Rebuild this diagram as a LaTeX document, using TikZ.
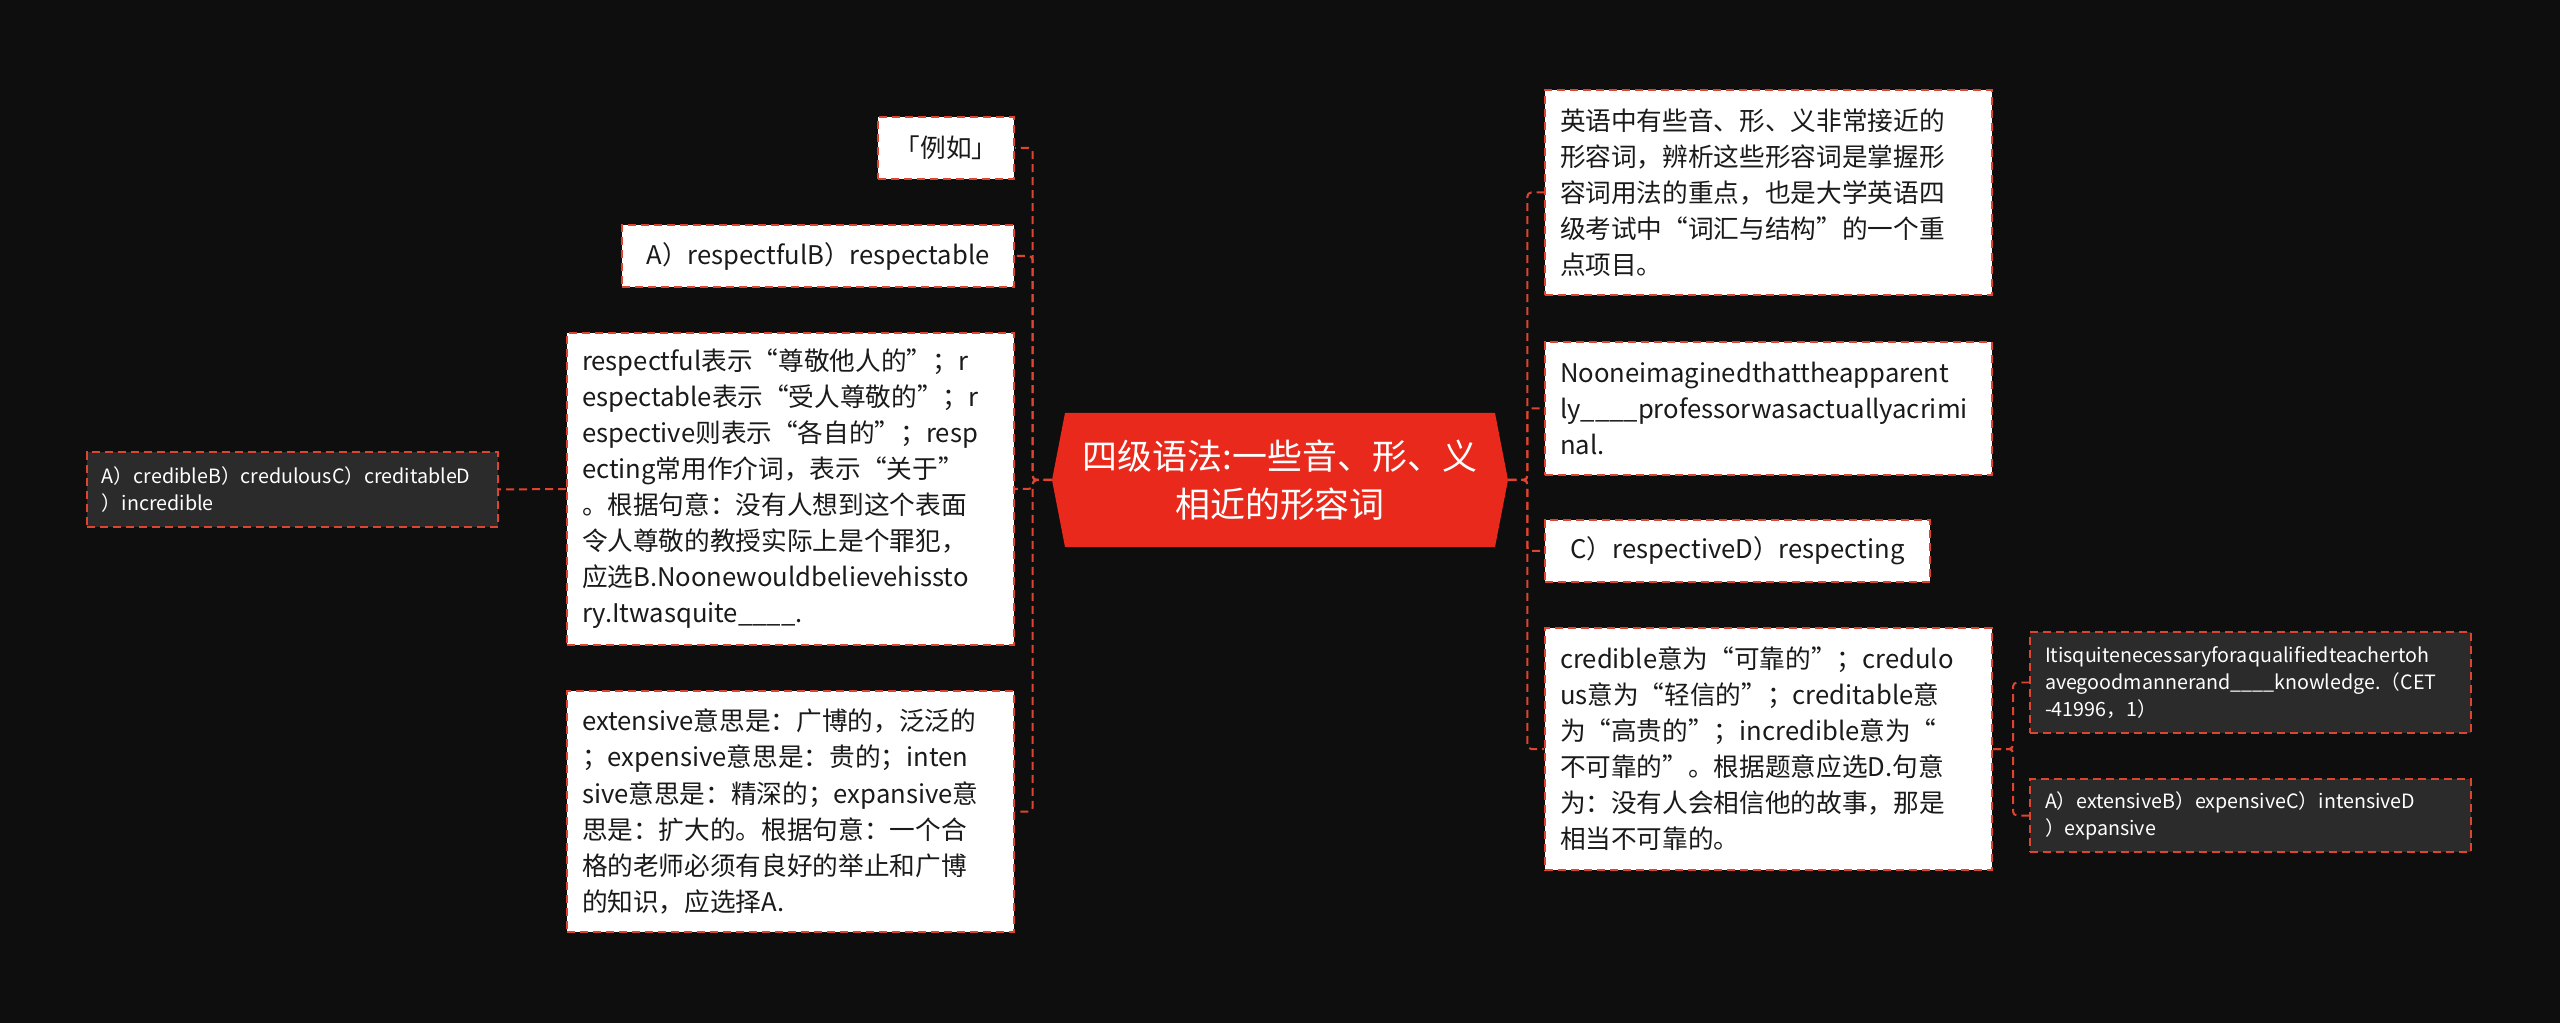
\documentclass[tikz,border=0pt]{standalone}
\usepackage{fontspec}
\setmainfont{Noto Sans CJK SC}
\definecolor{bgblack}{HTML}{0E0E0E}
\definecolor{linkred}{HTML}{DE442F}
\definecolor{rootred}{HTML}{E8291C}
\definecolor{slategray}{HTML}{2B2B2B}
\definecolor{inkblack}{HTML}{1A1A1A}
\tikzset{
    link/.style={draw=linkred,line width=0.04cm,dash pattern=on 0.16cm off 0.1cm,rounded corners=0.08cm},
    paper/.style={draw=linkred,fill=white,line width=0.04cm,dash pattern=on 0.16cm off 0.1cm,
      text=inkblack,inner sep=0pt,font=\fontsize{14.6pt}{20.5pt}\selectfont},
    slate/.style={draw=linkred,fill=slategray,line width=0.04cm,dash pattern=on 0.16cm off 0.1cm,
      text=white,inner sep=0pt,font=\fontsize{11.2pt}{15.4pt}\selectfont},
    boxsize/.style 2 args={minimum width=#1*0.02cm,minimum height=#2*0.02cm},
    para/.style={text width=#1*0.02cm-0.6cm,align=left}
}

\begin{document}
\begin{tikzpicture}[x=0.02cm,y=-0.02cm]
    \fill[bgblack] (0,0) rectangle (2560,1023);
    \useasboundingbox (0,0) rectangle (2560,1023);

    \fill[rootred] (1052,480) -- (1065,413) -- (1495,413) -- (1508,480) -- (1495,547) -- (1065,547) -- cycle;
    \node[boxsize={456}{134},inner sep=0pt,align=center,text=white,
      font=\fontsize{19.9pt}{27.3pt}\selectfont] (root) at (1280,480) {四级语法:一些音、形、义\\相近的形容词};

    \node[paper,boxsize={136}{62}] (li) at (946,148) {「例如」};
    \node[paper,boxsize={392}{62}] (optAB) at (818,256) {A）respectfulB）respectable};
    \node[paper,boxsize={447}{312},para=447] (explA) at (790.5,489) {respectful表示“尊敬他人的”；r\\espectable表示“受人尊敬的”；r\\espective则表示“各自的”；resp\\ecting常用作介词，表示“关于”\\。根据句意：没有人想到这个表面\\令人尊敬的教授实际上是个罪犯，\\应选B.Noonewouldbelievehissto\\ry.Itwasquite\_\_\_\_.};
    \node[paper,boxsize={447}{241},para=447] (explB) at (790.5,811.5) {extensive意思是：广博的，泛泛的\\；expensive意思是：贵的；inten\\sive意思是：精深的；expansive意\\思是：扩大的。根据句意：一个合\\格的老师必须有良好的举止和广博\\的知识，应选择A.};
    \node[slate,boxsize={411}{75},para=411] (optCred) at (292.5,489.5) {A）credibleB）credulousC）creditableD\\）incredible};

    \node[paper,boxsize={447}{205},para=447] (intro) at (1768.5,192.5) {英语中有些音、形、义非常接近的\\形容词，辨析这些形容词是掌握形\\容词用法的重点，也是大学英语四\\级考试中“词汇与结构”的一个重\\点项目。};
    \node[paper,boxsize={447}{133},para=447] (quest) at (1768.5,408.5) {Nooneimaginedthattheapparent\\ly\_\_\_\_professorwasactuallyacrimi\\nal.};
    \node[paper,boxsize={385}{62}] (optCD) at (1737.5,551) {C）respectiveD）respecting};
    \node[paper,boxsize={447}{242},para=447] (explC) at (1768.5,749) {credible意为“可靠的”；credulo\\us意为“轻信的”；creditable意\\为“高贵的”；incredible意为“\\不可靠的”。根据题意应选D.句意\\为：没有人会相信他的故事，那是\\相当不可靠的。};
    \node[slate,boxsize={441}{101},para=441] (questB) at (2250.5,682.5) {Itisquitenecessaryforaqualifiedteachertoh\\avegoodmannerand\_\_\_\_knowledge.（CET\\-41996，1）};
    \node[slate,boxsize={441}{73},para=441] (optExt) at (2250.5,815.5) {A）extensiveB）expensiveC）intensiveD\\）expansive};

    \draw[link] (root.west) -- ++(-19,0) |- (li.east);
    \draw[link] (root.west) -- ++(-19,0) |- (optAB.east);
    \draw[link] (root.west) -- ++(-19,0) |- (explA.east);
    \draw[link] (root.west) -- ++(-19,0) |- (explB.east);
    \draw[link] (explA.west) -- (optCred.east);
    \draw[link] (root.east) -- ++(19,0) |- (intro.west);
    \draw[link] (root.east) -- ++(19,0) |- (quest.west);
    \draw[link] (root.east) -- ++(19,0) |- (optCD.west);
    \draw[link] (root.east) -- ++(19,0) |- (explC.west);
    \draw[link] (explC.east) -- ++(20,0) |- (questB.west);
    \draw[link] (explC.east) -- ++(20,0) |- (optExt.west);
\end{tikzpicture}
\end{document}
